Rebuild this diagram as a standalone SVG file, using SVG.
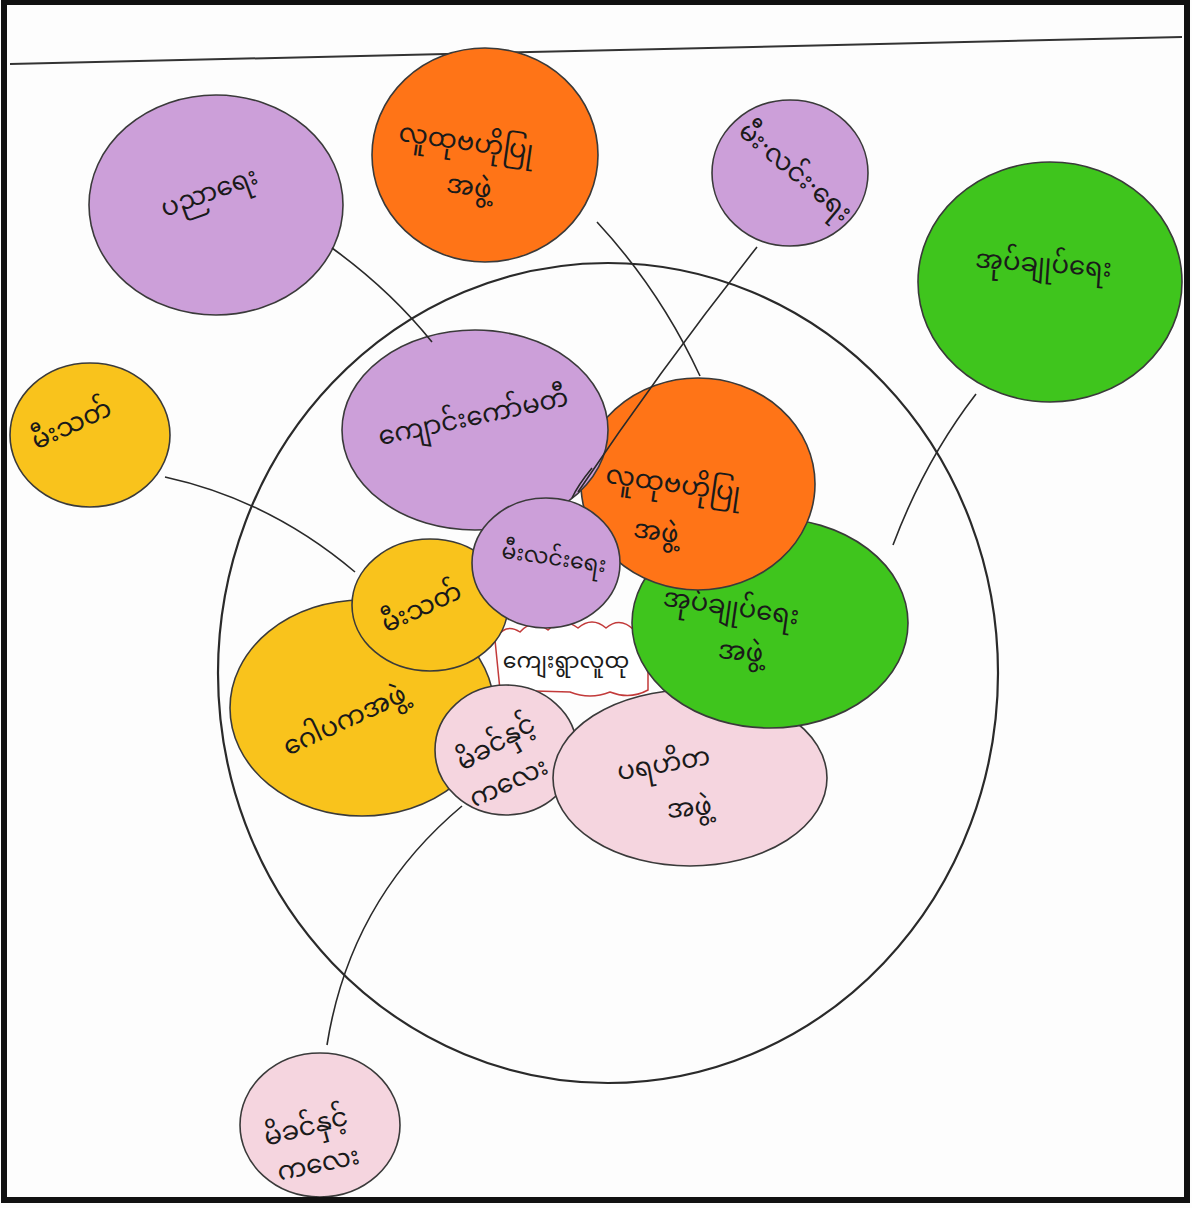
<svg xmlns="http://www.w3.org/2000/svg" width="1192" height="1208" viewBox="0 0 1192 1208">
<style>
.p{stroke:#3a3a3a;stroke-width:1.6}
.pur{fill:#cc9fd9}
.org{fill:#ff7417}
.grn{fill:#3fc51d}
.yel{fill:#f9c31c}
.pnk{fill:#f5d5df}
.t{font-family:"Noto Sans Myanmar","Noto Sans","DejaVu Sans",sans-serif;font-size:26px;fill:#1a1a1a;text-anchor:middle}
.c{fill:none;stroke:#2a2a2a;stroke-width:1.6}
</style>
<rect x="0" y="0" width="1192" height="1208" fill="#fdfdfd"/>
<line x1="10" y1="64" x2="1182" y2="37" stroke="#333" stroke-width="2"/>
<ellipse cx="608" cy="673" rx="390" ry="410" fill="none" stroke="#2a2a2a" stroke-width="2.2"/>

<g id="n-pyinnyaye">
<ellipse class="p pur" cx="216" cy="205" rx="127" ry="110"/>
<text class="t" transform="translate(212,200) rotate(-20)">ပညာရေး</text>
</g>
<g id="n-cbo-top">
<ellipse class="p org" cx="485" cy="155" rx="113" ry="107"/>
<text class="t" transform="translate(465,150) rotate(8)">လူထုဗဟိုပြု</text>
<text class="t" transform="translate(468,195) rotate(8)">အဖွဲ့</text>
</g>
<g id="n-electric-top">
<ellipse class="p pur" cx="790" cy="173" rx="78" ry="73"/>
<text class="t" transform="translate(790,178) rotate(40)">မီး·လင်း·ရေး</text>
</g>
<g id="n-admin-top">
<ellipse class="p grn" cx="1050" cy="282" rx="132" ry="120"/>
<text class="t" transform="translate(1043,272) rotate(4)">အုပ်ချုပ်ရေး</text>
</g>
<g id="n-fire-top">
<ellipse class="p yel" cx="90" cy="435" rx="80" ry="72"/>
<text class="t" transform="translate(75,432) rotate(-25)">မီးသတ်</text>
</g>
<g id="n-mch-bottom">
<ellipse class="p pnk" cx="320" cy="1125" rx="80" ry="72"/>
<text class="t" transform="translate(308,1135) rotate(-15)">မိခင်နှင့်</text>
<text class="t" transform="translate(320,1172) rotate(-12)">ကလေး</text>
</g>

<g id="n-village">
<path d="M495,640 Q505,622 520,632 Q532,618 548,630 Q562,616 578,628 Q592,616 606,628 Q620,616 634,630 Q648,628 648,650 L648,690 Q630,700 610,692 Q590,700 570,692 L500,690 Z" fill="#ffffff" stroke="#c23a3a" stroke-width="1.5"/>
<text class="t" x="566" y="668" style="font-size:22px">ကျေးရွာလူထု</text>
</g>
<g id="n-gopaka">
<ellipse class="p yel" cx="362" cy="708" rx="132" ry="108"/>
<text class="t" transform="translate(348,728) rotate(-25)">ဂေါပကအဖွဲ့</text>
</g>
<g id="n-fire-in">
<ellipse class="p yel" cx="430" cy="605" rx="78" ry="66"/>
<text class="t" transform="translate(425,615) rotate(-25)">မီးသတ်</text>
</g>
<g id="n-mch-in">
<ellipse class="p pnk" cx="506" cy="750" rx="71" ry="65"/>
<text class="t" transform="translate(500,750) rotate(-30)">မိခင်နှင့်</text>
<text class="t" transform="translate(512,790) rotate(-25)">ကလေး</text>
</g>
<g id="n-charity">
<ellipse class="p pnk" cx="690" cy="778" rx="137" ry="88"/>
<text class="t" transform="translate(665,772) rotate(-10)">ပရဟိတ</text>
<text class="t" transform="translate(690,816) rotate(-5)">အဖွဲ့</text>
</g>
<g id="n-admin-in">
<ellipse class="p grn" cx="770" cy="623" rx="138" ry="105"/>
<text class="t" transform="translate(730,615) rotate(8)">အုပ်ချုပ်ရေး</text>
<text class="t" transform="translate(740,660) rotate(5)">အဖွဲ့</text>
</g>
<g id="n-cbo-in">
<ellipse class="p org" cx="698" cy="484" rx="117" ry="106"/>
<text class="t" transform="translate(672,492) rotate(8)">လူထုဗဟိုပြု</text>
<text class="t" transform="translate(655,540) rotate(8)">အဖွဲ့</text>
</g>
<g id="n-school">
<ellipse class="p pur" cx="475" cy="430" rx="133" ry="100"/>
<text class="t" transform="translate(475,425) rotate(-12)">ကျောင်းကော်မတီ</text>
</g>
<g id="n-electric-in">
<ellipse class="p pur" cx="546" cy="563" rx="74" ry="65"/>
<text class="t" transform="translate(553,565) rotate(8)" style="font-size:22px">မီးလင်းရေး</text>
</g>

<g id="connectors">
<path class="c" d="M332,248 Q390,290 432,342"/>
<path class="c" d="M597,222 Q660,290 700,376"/>
<path class="c" d="M757,247 Q660,370 578,492"/>
<path class="c" d="M592,468 Q578,485 572,498"/>
<path class="c" d="M976,394 Q925,460 893,545"/>
<path class="c" d="M165,477 Q270,500 355,572"/>
<path class="c" d="M327,1045 Q350,900 462,806"/>
</g>

<rect x="4" y="2" width="1183" height="1198" fill="none" stroke="#111" stroke-width="6"/>
</svg>
